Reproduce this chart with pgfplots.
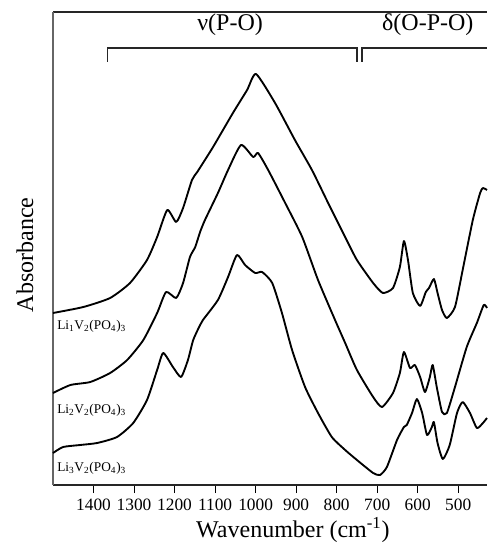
\documentclass[border=0pt]{standalone}
\usepackage{fontspec}
\setmainfont{Liberation Serif}
\usepackage{pgfplots}
\pgfplotsset{compat=1.18}

\begin{document}
\begin{tikzpicture}
\begin{axis}[
  scale only axis, width=325.5pt, height=354.75pt,
  x dir=reverse, xmin=429, xmax=1500, ymin=0, ymax=473,
  axis x line*=box, axis y line*=left,
  x axis line style={line width=1.3pt, black!85},
  y axis line style={line width=1pt, black!60},
  xtick={500,600,...,1400}, xtick pos=bottom, ytick=\empty,
  tick align=outside, major tick length=6pt,
  tick style={line width=0.8pt, black},
  /pgf/number format/1000 sep={},
  /pgf/number format/assume math mode=true,
  xticklabel style={font=\fontsize{13}{15}\selectfont, yshift=-1pt},
  clip=false,
  cycle list={{black, no markers}},
  every axis plot/.append style={line width=1.4pt, line join=round, smooth, tension=0.35},
]
% Li1V2(PO4)3
\addplot coordinates {(1500,172) (1425,178) (1359,187) (1310,202) (1268,225) (1243,248) (1218,275) (1196,263) (1179,277) (1157,305) (1144,313) (1105,338) (1056,372) (1021,395) (999,411) (952,382) (903,345) (861,315) (821,282) (779,248) (750,225) (710,202) (686,192) (661,197) (644,218) (634,244) (624,225) (612,192) (594,179) (580,193) (572,197) (560,206) (551,192) (540,175) (528,167) (508,178) (489,215) (464,265) (446,292) (439,297) (429,295)};
% Li2V2(PO4)3
\addplot coordinates {(1500,92) (1457,100) (1408,103) (1359,112) (1317,125) (1277,145) (1243,172) (1221,193) (1196,187) (1179,202) (1162,228) (1149,238) (1137,253) (1125,265) (1093,292) (1068,315) (1036,340) (1006,328) (994,332) (969,315) (927,282) (885,248) (846,205) (804,165) (779,142) (750,115) (710,88) (688,78) (661,92) (644,112) (634,133) (619,117) (607,120) (594,108) (582,93) (570,108) (563,120) (553,98) (540,73) (528,72) (508,98) (479,138) (454,162) (437,180) (429,177)};
% Li3V2(PO4)3
\addplot coordinates {(1500,32) (1475,38) (1433,40) (1391,42) (1342,48) (1302,62) (1268,85) (1243,115) (1228,132) (1204,118) (1184,108) (1167,125) (1154,145) (1137,160) (1130,165) (1093,185) (1068,208) (1046,230) (1026,220) (1001,212) (984,213) (959,202) (935,172) (910,135) (878,98) (846,72) (812,48) (779,35) (750,25) (710,12) (693,10) (676,18) (651,45) (634,58) (627,60) (614,72) (602,86) (589,72) (577,50) (565,58) (560,63) (551,42) (538,26) (521,40) (503,72) (489,83) (471,72) (454,57) (439,62) (429,67)};

% curve names
\node[anchor=west, inner sep=0pt, font=\fontsize{10}{12}\selectfont] at (axis cs:1490,159) {Li\textsubscript{1}V\textsubscript{2}(PO\textsubscript{4})\textsubscript{3}};
\node[anchor=west, inner sep=0pt, font=\fontsize{10}{12}\selectfont] at (axis cs:1490,75) {Li\textsubscript{2}V\textsubscript{2}(PO\textsubscript{4})\textsubscript{3}};
\node[anchor=west, inner sep=0pt, font=\fontsize{10}{12}\selectfont] at (axis cs:1490,17) {Li\textsubscript{3}V\textsubscript{2}(PO\textsubscript{4})\textsubscript{3}};

% band brackets
\draw[line width=1.1pt, black!85] (axis cs:1366,423) -- (axis cs:1366,437) -- (axis cs:750,437) -- (axis cs:750,423);
\draw[line width=1.1pt, black!85] (axis cs:738,423) -- (axis cs:738,437) -- (axis cs:429,437);
\node[font=\fontsize{18}{20}\selectfont] at (axis cs:1063,460) {ν(P-O)};
\node[font=\fontsize{18}{20}\selectfont] at (axis cs:575,460) {δ(O-P-O)};

% axis labels
\node[rotate=90, font=\fontsize{18}{20}\selectfont] at ([xshift=-21pt]axis cs:1500,230) {Absorbance};
\node[font=\fontsize{18}{20}\selectfont] at ([yshift=-33.75pt]axis cs:908,0) {Wavenumber (cm\textsuperscript{-1})};

\coordinate (bl) at (rel axis cs:0,0);
\end{axis}
\pgfresetboundingbox
\path (bl) ++(-39.75pt,-43.5pt) rectangle ++(365.25pt,407.25pt);
\end{tikzpicture}
\end{document}
